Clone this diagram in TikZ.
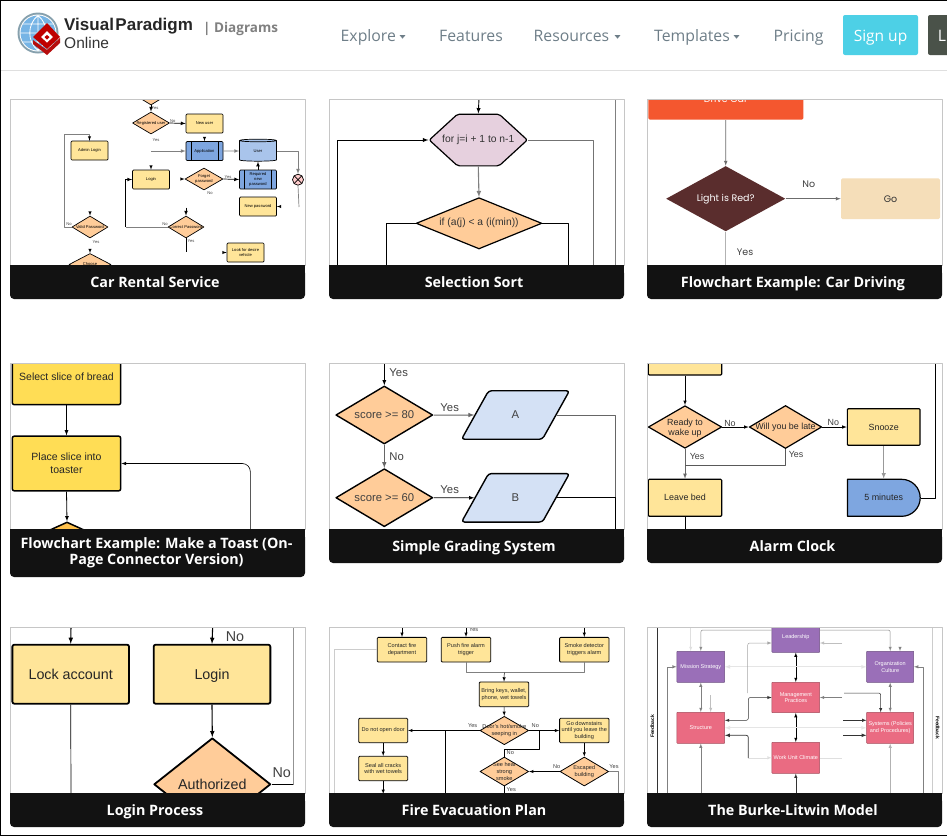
\documentclass[tikz,border=0pt]{standalone}
\usepackage{fontspec}
\setmainfont{Liberation Sans}
\newfontfamily\webfont{Open Sans}
\newfontfamily\popfont{Poppins}
\usepackage{tikz}
\usetikzlibrary{shapes.geometric,shapes.misc,shapes.symbols}

\newcommand{\szf}[1]{\fontsize{#1}{\dimexpr#1pt*6/5\relax}\selectfont}

\definecolor{navgray}{HTML}{6E7E88}
\definecolor{signcyan}{HTML}{4DD0E6}
\definecolor{darkbtn}{HTML}{4A5249}
\definecolor{boxyellow}{HTML}{FFE599}
\definecolor{toastyellow}{HTML}{FFDD55}
\definecolor{diaorange}{HTML}{FFCC99}
\definecolor{procblue}{HTML}{7EA6E0}
\definecolor{cylblue}{HTML}{A9C4EB}
\definecolor{gradeblue}{HTML}{D4E1F5}
\definecolor{hexpink}{HTML}{E6D0DE}
\definecolor{driveorange}{HTML}{F4572F}
\definecolor{lightbrown}{HTML}{5A2D2D}
\definecolor{gosand}{HTML}{F5DEB9}
\definecolor{burkepurple}{HTML}{9A6FB8}
\definecolor{burkepink}{HTML}{EA6B82}

\tikzset{
  box/.style 2 args={draw,rectangle,rounded corners=1pt,fill=boxyellow,inner sep=0pt,
    align=center,minimum width=#1,minimum height=#2},
  dia/.style 2 args={draw,diamond,fill=diaorange,inner sep=0pt,minimum width=#1,minimum height=#2},
  predef/.style={fill=procblue,path picture={
    \draw ([xshift=5pt]path picture bounding box.north west) -- ([xshift=5pt]path picture bounding box.south west);
    \draw ([xshift=-5pt]path picture bounding box.north east) -- ([xshift=-5pt]path picture bounding box.south east);}},
  para/.style={draw,trapezium,trapezium left angle=64,trapezium right angle=116,trapezium stretches=true,
    rounded corners=3pt,fill=gradeblue,inner sep=0pt,minimum width=108,minimum height=48.5},
  purple/.style={fill=burkepurple,text=white,draw=burkepurple!70!black,line width=.5pt},
  pink/.style={fill=burkepink,text=white,draw=burkepink!70!black,line width=.5pt},
  lab/.style={inner sep=0pt,text=black!75,align=center},
  navitem/.style={inner sep=0pt,anchor=base west,text=navgray,font=\webfont\szf{15.8}},
  navtip/.style={fill=navgray,isosceles triangle,shape border rotate=-90,isosceles triangle apex angle=80,
    inner sep=0pt,minimum size=3.5pt},
  captext/.style={inner sep=0pt,anchor=base,text=white,align=center,font=\webfont\bfseries\fontsize{14.3}{13.7}\selectfont}
}

\begin{document}
\begin{tikzpicture}[x=1pt,y=-1pt,line join=round]
\useasboundingbox (0,0) rectangle (947,836);
\fill[white] (0,0) rectangle (947,836);

% page header
\draw[gray!25] (0,70.5) -- (947,70.5);
\fill[black!60!cyan!60] (38,33) circle (20.5);
\fill[white] (38,33) circle (18.5);
\fill[cyan!70!blue!55] (38,33) circle (17.5);
\draw[white,line width=.8pt] (20.5,33) -- (55.5,33) (38,15.5) -- (38,50.5)
  (23,24) -- (53,24) (23,42) -- (53,42)
  (38,15.5) .. controls (27,24) and (27,42) .. (38,50.5)
  (38,15.5) .. controls (49,24) and (49,42) .. (38,50.5);
\fill[red!70!black!95] (33,40) -- (47,50) -- (60,38) -- (60,43) -- (47,55) -- (33,44) -- cycle;
\fill[red!75!black] (47,23) -- (60,37) -- (47,49) -- (33,37) -- cycle;
\fill[white] (47,31) -- (53,37) -- (47,42.5) -- (41,37) -- cycle;
\fill[red!75!black] (47,35) -- (49.5,37) -- (47,39.5) -- (44.5,37) -- cycle;
\node[inner sep=0pt,anchor=west,font=\bfseries\szf{17},text=black!85] (logoa) at (64,26.5) {Visual\kern1.5pt Paradigm};
\node[inner sep=0pt,anchor=west,font=\szf{15.5},text=black!80] (logob) at (64,43) {Online};
\node[inner sep=0pt,anchor=west,font=\webfont\bfseries\szf{13.5},text=black!50] (logoc) at (203,28.5) {| Diagrams};
\node[navitem] (explore) at (340.5,41) {Explore};
\node[navitem] (features) at (439,41) {Features};
\node[navitem] (resources) at (533.5,41) {Resources};
\node[navitem] (templates) at (654,41) {Templates};
\node[navitem] (pricing) at (773.5,41) {Pricing};
\node[navtip] (tipa) at (402.5,36.5) {};
\node[navtip] (tipb) at (617.5,36.5) {};
\node[navtip] (tipc) at (736.5,36.5) {};
\node[fill=signcyan,rounded corners=2pt,minimum width=75,minimum height=40,inner sep=0pt,text=white,
  text height=16pt,text depth=4pt,font=\webfont\szf{15.5}] (signup) at (880.5,35) {Sign up};
\fill[darkbtn,rounded corners=2pt] (928,15) rectangle (952,55);
\node[inner sep=0pt,anchor=base,text=white,font=\webfont\szf{15.8}] (loginbtn) at (942,41) {L};

% Car Rental Service
\begin{scope}
\clip (10,99) rectangle (305,266);
\begin{scope}[line width=.7pt,font=\szf{4.1}]
\node[dia={36}{22}] (cr-top) at (151,94) {};
\node[dia={37}{22},label={center:Registered user}] (cr-reg) at (151,123) {};
\node[box={37}{19}] (cr-new) at (204.5,123.5) {New user};
\node[box={37}{19}] (cr-admin) at (89.5,150.5) {Admin Login};
\node[box={37}{19},predef] (cr-app) at (204.5,151) {Application};
\node[draw,cylinder,shape border rotate=90,aspect=.3,fill=cylblue,inner sep=0pt,minimum width=37,minimum height=22] (cr-user) at (258,151) {User};
\node[box={37}{19},predef] (cr-req) at (258,179.5) {Required\\new\\password};
\node[box={37}{19}] (cr-login) at (151,179.5) {Login};
\node[dia={38}{22},label={center:{\begin{tabular}{@{}c@{}}Forget\\password\end{tabular}}}] (cr-forget) at (204,179) {};
\node[draw,circle,fill=red!20,minimum size=11,inner sep=0pt,path picture={
  \draw (path picture bounding box.north west) -- (path picture bounding box.south east);
  \draw (path picture bounding box.north east) -- (path picture bounding box.south west);}] (cr-x) at (298,179.7) {};
\node[box={37}{19}] (cr-newpw) at (258,206.5) {New password};
\node[dia={36}{22},label={center:Correct Password}] (cr-correct) at (186,227) {};
\node[dia={36}{22},label={center:Valid Password}] (cr-valid) at (90,227) {};
\node[box={37}{19}] (cr-lock) at (245.5,252.5) {Look for desire\\vehicle};
\node[dia={42}{22},label={center:Choose}] (cr-choose) at (90,264.5) {};
\node[lab] (cr-t1) at (155,108) {Yes};
\node[lab] (cr-t2) at (172.7,121) {No};
\node[lab] (cr-t3) at (156,140) {Yes};
\node[lab] (cr-t4) at (228,177) {Yes};
\node[lab] (cr-t5) at (210,193.3) {No};
\node[lab] (cr-t6) at (69,224) {No};
\node[lab] (cr-t7) at (165,224) {No};
\node[lab] (cr-t8) at (96,242) {Yes};
\node[lab] (cr-t9) at (191,241) {Yes};
\coordinate (cr-c1) at (151,151);
\coordinate (cr-c2) at (64.3,134.3);
\coordinate (cr-c3) at (125.7,227);
\coordinate (cr-c4) at (186,207.7);
\coordinate (cr-c5) at (186,252);
\coordinate (cr-c6) at (299,207);
\draw[-latex] (cr-top.south) -- (cr-reg.north);
\draw[-latex] (cr-reg.east) -- (cr-new.west);
\draw[gray] (cr-c2) -| ([yshift=-1pt]cr-admin.north);
\draw[gray] (cr-c2) |- (cr-valid.west);
\draw[gray,-latex] (cr-c1) -- (cr-app.west);
\draw[gray,-latex] (cr-app.east) -- (cr-user.west);
\draw[gray,-latex] (cr-user.east) -| (cr-x.north);
\draw[gray] (cr-x.south) -- (cr-c6);
\draw[-latex] (cr-req.north) -- (cr-user.south);
\draw[-latex] (cr-forget.east) -- (cr-req.west);
\draw[gray] (cr-correct.west) -- (cr-c3);
\draw[-latex] (cr-c3) |- (cr-login.west);
\draw[-latex] (cr-c4) -- (cr-correct.north);
\draw (cr-correct.south) -- (cr-c5);
% stubs whose lines the thumbnail lost
\draw[line width=.5pt,-latex] ([yshift=3pt]cr-app.north) -- (cr-app.north);
\draw[line width=.5pt,-latex] ([yshift=3pt]cr-login.north) -- (cr-login.north);
\draw[line width=.5pt,-latex] ([yshift=3pt]cr-admin.north) -- (cr-admin.north);
\draw[line width=.5pt,-latex] ([yshift=3pt]cr-valid.north) -- (cr-valid.north);
\draw[line width=.5pt,-latex] ([yshift=3pt]cr-choose.north) -- (cr-choose.north);
\draw[line width=.5pt,-latex] ([xshift=-3pt]cr-forget.west) -- (cr-forget.west);
\draw[line width=.5pt,-latex] ([xshift=3pt]cr-newpw.east) -- (cr-newpw.east);
\draw[line width=.5pt,-latex] ([xshift=-3pt]cr-lock.west) -- (cr-lock.west);
\end{scope}
\end{scope}

% Selection Sort
\begin{scope}
\clip (329,99) rectangle (624,266);
\begin{scope}[line width=.9pt,font=\szf{10.3},text=black!80,every node/.append style={line width=1.2pt}]
\node[draw,signal,signal to=east and west,signal pointer angle=85,rounded corners=2pt,
  fill=hexpink,inner sep=0pt,minimum width=98,minimum height=51.7,label={center:for j=i + 1 to n-1}] (ss-for) at (478.3,140) {};
\node[dia={125.7}{51.3},label={center:if (a(j) < a (i(min))}] (ss-if) at (479,223.3) {};
\coordinate (ss-in) at (479,98);
\coordinate (ss-l) at (337.3,266);
\coordinate (ss-r) at (593.3,266);
\coordinate (ss-il) at (386.3,266);
\coordinate (ss-ir) at (568.3,266);
\coordinate (ss-fa) at (615.7,98);
\coordinate (ss-fb) at (615.7,266);
\draw[-latex] (ss-in) -- (ss-for.north);
\draw[-latex] (ss-l) |- (ss-for.west);
\draw[gray!90!black] (ss-for.east) -| (ss-r);
\draw[gray,line width=1.1pt,-latex] (ss-for.south) -- (ss-if.north);
\draw (ss-if.west) -| (ss-il);
\draw (ss-if.east) -| (ss-ir);
\draw[gray] (ss-fa) -- (ss-fb);
\end{scope}
\end{scope}

% Flowchart Example: Car Driving
\begin{scope}
\clip (647,99) rectangle (942,266);
\begin{scope}[line width=.7pt,font=\popfont\szf{9.5}]
\node[fill=driveorange,rounded corners=1.5pt,text=white,inner sep=0pt,minimum width=155,minimum height=41.4] (cd-drive) at (725.8,99) {Drive Car};
\node[diamond,fill=lightbrown,inner sep=0pt,minimum width=119.3,minimum height=65.3,label={[text=white]center:Light is Red?}] (cd-light) at (725.7,198.7) {};
\node[fill=gosand,rounded corners=1.5pt,text=black!80,inner sep=0pt,minimum width=99,minimum height=40.7] (cd-go) at (890.5,198.7) {Go};
\node[lab] (cd-no) at (808.7,184) {No};
\node[lab] (cd-yes) at (745,252) {Yes};
\coordinate (cd-down) at (725.7,266);
\draw[gray!85!black,-latex] (cd-drive.south) -- (cd-light.north);
\draw[gray!85!black,-latex] (cd-light.east) -- (cd-go.west);
\draw[gray!60,line width=1pt] (cd-light.south) -- (cd-down);
\end{scope}
\end{scope}

% Flowchart Example: Make a Toast (On-Page Connector Version)
\begin{scope}
\clip (10,363) rectangle (305,530);
\begin{scope}[line width=1.1pt,font=\szf{10.5},text=black!85,every node/.append style={line width=1.5pt}]
\node[box={108.4}{55.4},rounded corners=2pt,fill=toastyellow] (ft-select) at (66.5,377) {Select slice of bread};
\node[box={108.4}{54.7},rounded corners=2pt,fill=toastyellow] (ft-place) at (66.5,463.5) {Place slice into\\toaster};
\node[dia={132}{60},fill=orange!70!yellow!70!white] (ft-dec) at (67,552) {};
\coordinate (ft-up) at (250.3,530);
\draw[line width=.8pt,-latex] (ft-select.south) -- (ft-place.north);
\draw[line width=.8pt,-latex] (ft-place.south) -- (ft-dec.north);
\draw[line width=.6pt,rounded corners=8pt,-latex] (ft-up) |- (ft-place.east);
\end{scope}
\end{scope}

% Simple Grading System
\begin{scope}
\clip (329,363) rectangle (624,530);
\begin{scope}[line width=1pt,font=\szf{11.3},text=black!75,every node/.append style={line width=1.4pt}]
\node[dia={97}{58},label={center:score >= 80}] (gs-a) at (384.3,415) {};
\node[dia={97}{58},label={center:score >= 60}] (gs-b) at (384.3,497.7) {};
\node[para] (gs-pa) at (515.5,415) {A};
\node[para] (gs-pb) at (515.5,497.8) {B};
\node[lab] (gs-t1) at (398.7,372.7) {Yes};
\node[lab] (gs-t2) at (449.7,408) {Yes};
\node[lab] (gs-t3) at (396.7,457) {No};
\node[lab] (gs-t4) at (449.7,489.3) {Yes};
\coordinate (gs-in) at (384.3,362);
\coordinate (gs-out) at (615,530);
\draw[line width=.8pt,-latex] (gs-in) -- (gs-a.north);
\draw[gray!80!black,-latex] (gs-a.south) -- (gs-b.north);
\draw[gray!80!black,-latex] (gs-a.east) -- (gs-pa.west);
\draw[line width=.8pt,-latex] (gs-b.east) -- (gs-pb.west);
\draw[gray!80!black] (gs-pa.east) -| (gs-out);
\draw[line width=.7pt] (gs-pb.east) -| (gs-out);
\end{scope}
\end{scope}

% Alarm Clock
\begin{scope}
\clip (647,363) rectangle (942,530);
\begin{scope}[line width=.9pt,font=\szf{8.9},text=black!85,every node/.append style={line width=1.2pt}]
\node[box={73.4}{37}] (ac-top) at (685,356.5) {};
\node[dia={73.4}{42.6},label={[yshift=-1.5pt]center:{\begin{tabular}{@{}c@{}}Ready to\\wake up\end{tabular}}}] (ac-ready) at (685,427) {};
\node[dia={72.4}{43},label={center:Will you be late}] (ac-late) at (785.5,427) {};
\node[box={72.7}{36.6}] (ac-snooze) at (883.7,427) {Snooze};
\node[box={73.4}{37}] (ac-bed) at (685,497.8) {Leave bed};
\node[draw,rounded rectangle,rounded rectangle left arc=none,fill=procblue,inner sep=0pt,minimum width=72.7,minimum height=37] (ac-five) at (883.7,497.8) {5 minutes};
\node[lab] (ac-t1) at (730,423.7) {No};
\node[lab] (ac-t2) at (833.3,422.3) {No};
\node[lab] (ac-t3) at (697,456.3) {Yes};
\node[lab] (ac-t4) at (796,454.3) {Yes};
\coordinate (ac-join) at (685,465);
\coordinate (ac-out) at (935,362);
\coordinate (ac-end) at (685,530);
\draw[line width=.6pt,-latex] (ac-top.south) -- (ac-ready.north);
\draw[line width=.6pt,-latex] (ac-ready.east) -- (ac-late.west);
\draw[line width=.6pt,-latex] (ac-late.east) -- (ac-snooze.west);
\draw[gray!80!black,line width=.8pt,-latex] (ac-ready.south) -- (ac-bed.north);
\draw[gray!70!black,line width=.7pt] (ac-late.south) |- (ac-join);
\draw[gray!80,line width=.9pt,-latex] (ac-snooze.south) -- (ac-five.north);
\draw[line width=.6pt] (ac-five.east) -| (ac-out);
\draw[line width=.6pt] (ac-bed.south) -- (ac-end);
\end{scope}
\end{scope}

% Login Process
\begin{scope}
\clip (10,627) rectangle (305,794);
\begin{scope}[line width=1.3pt,font=\szf{14.3},text=black!85,every node/.append style={line width=1.8pt}]
\node[box={116.7}{59},rounded corners=2pt] (lp-lock) at (70.7,674.2) {Lock account};
\node[box={116.7}{59},rounded corners=2pt,text height=10.3pt,text depth=0pt] (lp-login) at (212,674.2) {Login};
\node[dia={116.7}{92.6},label={center:Authorized}] (lp-auth) at (212.3,784.3) {};
\node[lab] (lp-t1) at (235,637) {No};
\node[lab] (lp-t2) at (281.7,772.3) {No};
\coordinate (lp-a) at (71,626);
\coordinate (lp-b) at (212.7,626);
\coordinate (lp-c) at (71,794);
\coordinate (lp-d) at (293.7,626);
\draw[line width=1.1pt,-latex] (lp-a) -- (lp-lock.north);
\draw[line width=1.1pt,-latex] (lp-b) -- (lp-login.north);
\draw[line width=.7pt] (lp-lock.south) -- (lp-c);
\draw[line width=1.1pt,-latex] (lp-login.south) -- (lp-auth.north);
\draw[line width=.7pt] (lp-auth.east) -- (lp-auth.east -| lp-d);
\draw[gray!85,line width=1.2pt] (lp-d) |- ([xshift=-.5pt]lp-auth.east -| lp-d);
\end{scope}
\end{scope}

% Fire Evacuation Plan
\begin{scope}
\clip (329,627) rectangle (624,794);
\begin{scope}[line width=.8pt,font=\szf{5.6},text=black!85]
\node[box={49.4}{24.7}] (fe-contact) at (402,649.7) {Contact fire\\department};
\node[box={49.4}{24.7}] (fe-push) at (466,649.7) {Push fire alarm\\trigger};
\node[box={49.4}{24.7}] (fe-smoke) at (584.3,649.7) {Smoke detector\\triggers alarm};
\node[box={49.4}{24.7}] (fe-bring) at (504,694.3) {Bring keys, wallet,\\phone, wet towels};
\node[dia={48.7}{28.4},label={[align=center]center:{Door's hot/smoke\\seeping in}}] (fe-door) at (504.3,730.5) {};
\node[box={49}{24.4}] (fe-noopen) at (383.2,730.5) {Do not open door};
\node[box={49.4}{24.4}] (fe-down) at (584.3,730.5) {Go downstairs\\until you leave the\\building};
\node[box={49}{24.4}] (fe-seal) at (383.2,768.5) {Seal all cracks\\with wet towels};
\node[dia={48.7}{29},label={[align=center]center:{See heat\\strong\\smoke}}] (fe-feel) at (504.3,771.5) {};
\node[dia={48.7}{29},label={[align=center]center:{Escaped\\building}}] (fe-esc) at (584.3,771.5) {};
\node[lab] (fe-t1) at (473.7,629.7) {Yes};
\node[lab] (fe-t2) at (472.7,725.7) {Yes};
\node[lab] (fe-t3) at (535.3,725.7) {No};
\node[lab] (fe-t4) at (510.3,753) {No};
\node[lab] (fe-t5) at (556.7,766.7) {No};
\node[lab] (fe-t6) at (614,766.7) {Yes};
\node[lab] (fe-t7) at (511.3,790) {Yes};
\coordinate (fe-a) at (402,626);
\coordinate (fe-b) at (466,626);
\coordinate (fe-c) at (584.3,626);
\coordinate (fe-merge) at (504.3,672.7);
\coordinate (fe-left) at (334.7,794);
\coordinate (fe-mid) at (445.7,730.5);
\coordinate (fe-midb) at (445.7,794);
\coordinate (fe-turn) at (539.7,749.3);
\coordinate (fe-sealb) at (383.2,794);
\coordinate (fe-feelb) at (504.3,794);
\coordinate (fe-escb) at (618.7,794);
\draw[line width=.5pt,-latex] (fe-a) -- (fe-contact.north);
\draw[line width=.5pt,-latex] (fe-b) -- (fe-push.north);
\draw[line width=.5pt,-latex] (fe-c) -- (fe-smoke.north);
\draw[gray,line width=.6pt] (fe-push.south) |- (fe-merge) -| (fe-smoke.south);
\draw[line width=.5pt,-latex] (fe-merge) -- (fe-bring.north);
\draw[line width=.5pt,-latex] (fe-bring.south) -- (fe-door.north);
\draw[line width=.5pt,-latex] (fe-door.west) -- (fe-noopen.east);
\draw[line width=.5pt,-latex] (fe-door.east) -- (fe-down.west);
\draw[gray!40,line width=.5pt] (fe-contact.west) -| (fe-left);
\draw[line width=.5pt] (fe-mid) -- (fe-midb);
\draw[line width=.5pt] (fe-door.east -| fe-turn) -- (fe-turn) -| (fe-feel.north);
\draw[line width=.5pt,-latex] (fe-noopen.south) -- (fe-seal.north);
\draw[line width=.5pt,-latex] (fe-seal.south) -- (fe-sealb);
\draw[line width=.5pt,-latex] (fe-down.south) -- (fe-esc.north);
\draw[line width=.5pt,-latex] (fe-esc.west) -- (fe-feel.east);
\draw[line width=.5pt] (fe-feel.south) -- (fe-feelb);
\draw[gray,line width=.5pt] (fe-esc.east) -| (fe-escb);
\end{scope}
\end{scope}

% The Burke-Litwin Model
\begin{scope}
\clip (647,627) rectangle (942,794);
\begin{scope}[line width=.5pt,font=\szf{5.5}]
\node[box={47.7}{31},purple,rounded corners=.5pt] (bl-lead) at (795.8,636.8) {Leadership};
\node[box={47.7}{31},purple,rounded corners=.5pt] (bl-miss) at (700.8,666.8) {Mission Strategy};
\node[box={47}{31},purple,rounded corners=.5pt] (bl-org) at (890.2,666.8) {Organization\\Culture};
\node[box={47.7}{30.4},pink,rounded corners=.5pt] (bl-mgmt) at (795.8,697.5) {Management\\Practices};
\node[box={47.7}{31},pink,rounded corners=.5pt] (bl-str) at (700.8,727.8) {Structure};
\node[box={47}{31},pink,rounded corners=.5pt] (bl-sys) at (890.2,727.8) {Systems (Policies\\and Procedures)};
\node[box={47.7}{31},pink,rounded corners=.5pt] (bl-work) at (795.8,757.8) {Work Unit Climate};
\node[rotate=90,lab,text=black,font=\bfseries\szf{5}] (bl-fbl) at (652.3,726.3) {Feedback};
\node[rotate=-90,lab,text=black,font=\bfseries\szf{5}] (bl-fbr) at (937.7,727.7) {Feedback};
\coordinate (bl-a) at (657.3,626);
\coordinate (bl-b) at (657.3,794);
\coordinate (bl-c) at (932.3,626);
\coordinate (bl-d) at (932.3,794);
\coordinate (bl-l) at (667.3,794);
\coordinate (bl-r) at (923.7,794);
\coordinate (bl-e) at (700.8,794);
\coordinate (bl-f) at (890.2,794);
\coordinate (bl-g) at (795.8,794);
\coordinate (bl-h) at (690.7,626);
\coordinate (bl-i) at (747.7,643);
\coordinate (bl-j) at (747.7,693);
\coordinate (bl-k) at (842,643);
\coordinate (bl-m) at (748.3,697.5);
\coordinate (bl-n) at (748.3,720.3);
\coordinate (bl-o) at (842,697.5);
\coordinate (bl-p) at (844,693);
\coordinate (bl-q) at (880.7,712.3);
\coordinate (bl-s) at (843,720.3);
\coordinate (bl-t) at (843,735.3);
\coordinate (bl-u) at (748.3,735.3);
\coordinate (bl-v) at (748.3,757.8);
\coordinate (bl-w) at (842,757.8);
\coordinate (bl-x) at (900,647);
\coordinate (bl-y) at (710.7,695);
\coordinate (bl-z) at (700.8,630);
\draw[black!80,line width=.7pt] (bl-a) -- (bl-b);
\draw[gray!40,line width=.7pt] (bl-c) -- (bl-d);
\draw[gray,-latex] (bl-l) |- (bl-miss.west);
\draw[gray,-latex] (bl-r) |- (bl-org.east);
\draw[gray,-latex] (bl-e) -- (bl-str.south);
\draw[gray!60,-latex] (bl-f) -- (bl-sys.south);
\draw[black!80,-latex] (bl-g) -- (bl-work.south);
\draw[gray!25,-latex] (bl-h) -- (bl-h |- bl-miss.north);
\draw[gray!90,rounded corners=2pt,-latex] (bl-lead.west |- bl-z) -| (bl-miss.north);
\draw[gray!90,rounded corners=2pt,-latex] (bl-lead.east |- bl-z) -| (bl-org.north);
\draw[latex-latex] (bl-lead.south) -- (bl-mgmt.north);
\draw[latex-latex] (bl-mgmt.south) -- (bl-work.north);
\draw[gray,latex-latex] (bl-miss.south) -- (bl-str.north);
\draw[gray,latex-latex] (bl-org.south) -- (bl-sys.north);
\draw[gray!20,line width=.8pt,latex-latex] (bl-miss.east) -- (bl-org.west);
\draw[gray!20,line width=.8pt,latex-latex] (bl-str.east) -- (bl-sys.west);
\draw[gray!70,rounded corners=2pt,-latex] (bl-j) -- (bl-i) -- (bl-lead.west |- bl-i);
\draw[gray!50,-latex] (bl-k) -- (bl-lead.east |- bl-k);
\draw[black!80,rounded corners=2pt,latex-latex] (bl-mgmt.west) -- (bl-m) -- (bl-n) -- (bl-str.east |- bl-n);
\draw[gray,-latex] (bl-o) -- (bl-mgmt.east);
\draw[black!80,rounded corners=2pt,-latex] (bl-p) -| (bl-q);
\draw[black!80,-latex] (bl-s) -- (bl-sys.west |- bl-s);
\draw[black!80,line width=.7pt,-latex] (bl-t) -- (bl-sys.west |- bl-t);
\draw[black!80,line width=.7pt,rounded corners=2pt,-latex] (bl-v) -- (bl-u) -- (bl-str.east |- bl-u);
\draw[gray!25,-latex] (bl-v) -- (bl-work.west);
\draw[gray!25] (bl-work.east) -- (bl-w);
\draw[gray,-latex] (bl-x) -- (bl-x |- bl-org.north);
\draw[gray!50,-latex] (bl-y) -- (bl-y |- bl-str.north);
\end{scope}
\end{scope}

% frames and caption bars
\foreach \i/\cx/\cy/\bh/\base/\off/\cap in {
  a/10/99/34/22/145/{Car Rental Service},
  b/329/99/34/22/145/{Selection Sort},
  c/647/99/34/22/146/{Flowchart Example: Car Driving},
  d/10/363/48/35/146.5/{Flowchart Example: Make a Toast (On-\\Page Connector Version)},
  e/329/363/34/22/145/{Simple Grading System},
  f/647/363/34/22/145.5/{Alarm Clock},
  g/10/627/34/22/145/{Login Process},
  h/329/627/34/22/145/{Fire Evacuation Plan},
  i/647/627/34/22/146/{The Burke-Litwin Model}}{
  \draw[gray!45] (\cx,\cy) rectangle (\cx+295,\cy+166);
  \fill[black!93,rounded corners=4pt] (\cx,\cy+170) rectangle (\cx+295,\cy+166+\bh);
  \fill[black!93] (\cx,\cy+166) rectangle (\cx+295,\cy+176);
  \node[captext] (cap-\i) at (\cx+\off,\cy+166+\base) {\cap};
}

% screenshot edge
\draw[black,line width=1.5pt] (0,835.3) -- (0,0) -- (947,0);
\draw[black,line width=1.5pt] (0,835.3) -- (947,835.3);
\end{tikzpicture}
\end{document}
